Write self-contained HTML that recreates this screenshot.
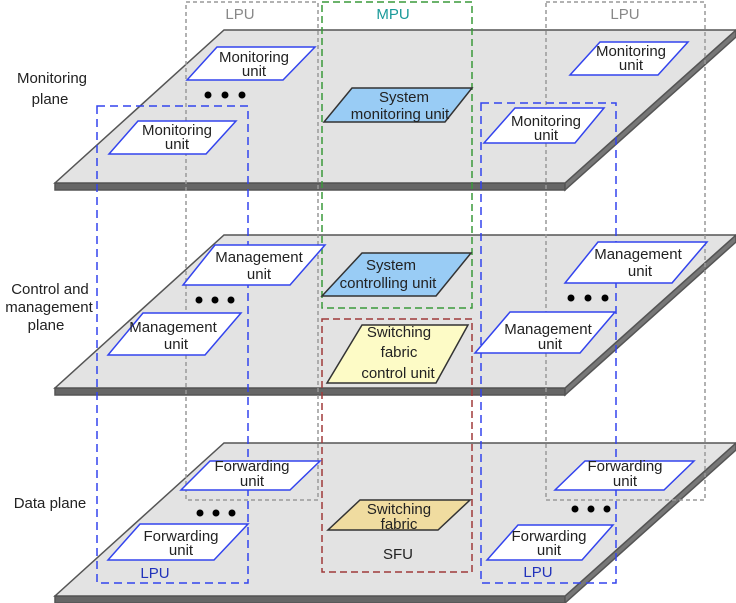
<!DOCTYPE html>
<html><head><meta charset="utf-8"><style>
html,body{margin:0;padding:0;background:#fff;width:736px;height:603px;overflow:hidden}
svg{display:block}
text{font-family:"Liberation Sans",sans-serif;font-size:15px;fill:#222}
</style></head><body>
<svg width="736" height="603" viewBox="0 0 736 603" xmlns="http://www.w3.org/2000/svg">
<g stroke="#555" stroke-width="1.5">
<polygon points="55,183 565,183 565,190 55,190" fill="#666"/>
<polygon points="565,183 736,30 736,37 565,190" fill="#777"/>
<polygon points="224,30 736,30 565,183 55,183" fill="#e3e3e3"/>
<polygon points="55,388 565,388 565,395 55,395" fill="#666"/>
<polygon points="565,388 736,235 736,242 565,395" fill="#777"/>
<polygon points="224,235 736,235 565,388 55,388" fill="#e3e3e3"/>
<polygon points="55,596 565,596 565,603 55,603" fill="#666"/>
<polygon points="565,596 736,443 736,450 565,603" fill="#777"/>
<polygon points="224,443 736,443 565,596 55,596" fill="#e3e3e3"/>
</g>
<g fill="none" stroke-width="1.5">
<rect x="186" y="2" width="132" height="498" stroke="#999" stroke-dasharray="4,3"/>
<rect x="546" y="2" width="159" height="498" stroke="#999" stroke-dasharray="4,3"/>
<rect x="322" y="2" width="150" height="306" stroke="#3a9a3a" stroke-dasharray="7,4"/>
<rect x="322" y="319" width="150" height="253" stroke="#a03a3a" stroke-dasharray="7,4"/>
<rect x="97" y="106" width="151" height="477" stroke="#3344ee" stroke-dasharray="8,5"/>
<rect x="481" y="103" width="135" height="480" stroke="#3344ee" stroke-dasharray="8,5"/>
</g>
<g stroke="#3344ee" stroke-width="1.5" fill="#fff">
<polygon points="187,80 283,80 315,47 217,47"/>
<polygon points="570,75 658,75 688,42 600,42"/>
<polygon points="109,154 206,154 236,121 138,121"/>
<polygon points="484,143 575,143 604,108 515,108"/>
<polygon points="183,285 290,285 325,245 215,245"/>
<polygon points="565,283 672,283 707,242 598,242"/>
<polygon points="108,355 205,355 241,313 143,313"/>
<polygon points="475,353 580,353 615,312 510,312"/>
<polygon points="181,490 290,490 320,461 210,461"/>
<polygon points="555,490 664,490 694,461 585,461"/>
<polygon points="108,560 214,560 248,524 140,524"/>
<polygon points="487,560 582,560 613,525 518,525"/>
</g>
<g stroke="#333" stroke-width="1.5">
<polygon points="324,122 445,122 472,88 352,88" fill="#99ccf5"/>
<polygon points="322,296 436,296 471,253 362,253" fill="#99ccf5"/>
<polygon points="327,383 436,383 468,325 362,325" fill="#fdfbc6"/>
<polygon points="328,530 438,530 470,500 360,500" fill="#f0dca0"/>
</g>
<g fill="#000">
<circle cx="208" cy="95" r="3.5"/><circle cx="225" cy="95" r="3.5"/><circle cx="242" cy="95" r="3.5"/>
<circle cx="199" cy="300" r="3.5"/><circle cx="215" cy="300" r="3.5"/><circle cx="231" cy="300" r="3.5"/>
<circle cx="571" cy="298" r="3.5"/><circle cx="588" cy="298" r="3.5"/><circle cx="605" cy="298" r="3.5"/>
<circle cx="200" cy="513" r="3.5"/><circle cx="216" cy="513" r="3.5"/><circle cx="232" cy="513" r="3.5"/>
<circle cx="575" cy="509" r="3.5"/><circle cx="591" cy="509" r="3.5"/><circle cx="607" cy="509" r="3.5"/>
</g>
<g text-anchor="middle">
<text x="254" y="62">Monitoring</text><text x="254" y="76">unit</text>
<text x="631" y="56">Monitoring</text><text x="631" y="70">unit</text>
<text x="177" y="135">Monitoring</text><text x="177" y="149">unit</text>
<text x="546" y="126">Monitoring</text><text x="546" y="140">unit</text>
<text x="404" y="102">System</text><text x="400" y="119">monitoring unit</text>
<text x="259" y="262">Management</text><text x="259" y="279">unit</text>
<text x="638" y="259">Management</text><text x="640" y="276">unit</text>
<text x="173" y="332">Management</text><text x="176" y="349">unit</text>
<text x="548" y="334">Management</text><text x="550" y="349">unit</text>
<text x="391" y="270">System</text><text x="388" y="288">controlling unit</text>
<text x="399" y="337">Switching</text><text x="399" y="357">fabric</text><text x="398" y="378">control unit</text>
<text x="252" y="471">Forwarding</text><text x="252" y="486">unit</text>
<text x="625" y="471">Forwarding</text><text x="625" y="486">unit</text>
<text x="181" y="541">Forwarding</text><text x="181" y="555">unit</text>
<text x="549" y="541">Forwarding</text><text x="549" y="555">unit</text>
<text x="399" y="514">Switching</text><text x="399" y="529">fabric</text>
<text x="398" y="559">SFU</text>
<text x="52" y="83">Monitoring</text><text x="50" y="104">plane</text>
<text x="50" y="294">Control and</text><text x="49" y="312">management</text><text x="46" y="330">plane</text>
<text x="50" y="508">Data  plane</text>
<text x="240" y="19" style="fill:#888">LPU</text>
<text x="393" y="19" style="fill:#1a9a9a">MPU</text>
<text x="625" y="19" style="fill:#888">LPU</text>
<text x="155" y="578" style="fill:#2233bb">LPU</text>
<text x="538" y="577" style="fill:#2233bb">LPU</text>
</g>
</svg>
</body></html>
